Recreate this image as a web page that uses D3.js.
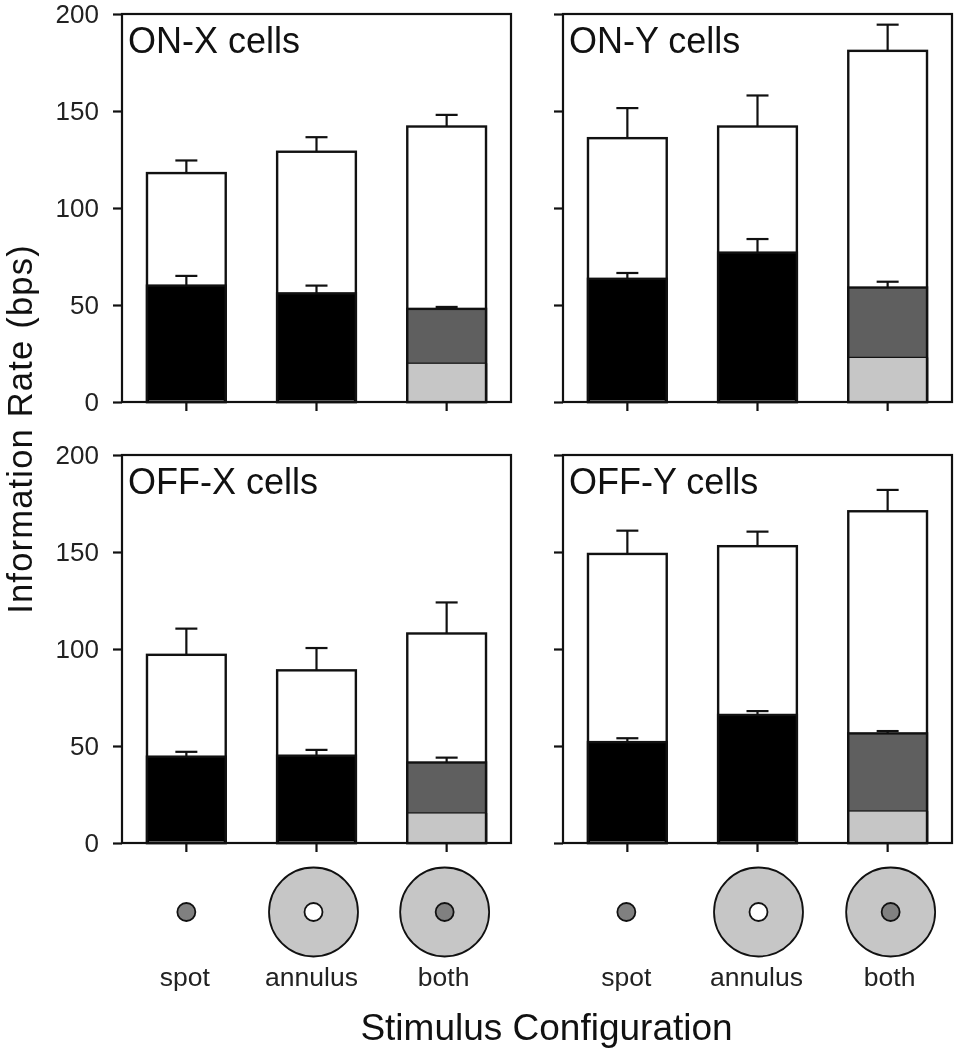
<!DOCTYPE html>
<html>
<head>
<meta charset="utf-8">
<script src="https://cdn.jsdelivr.net/npm/d3@7"></script>
<style>
  html, body { margin: 0; background: #fff; }
  svg { display: block; filter: blur(0.35px); }
  text { font-family: "Liberation Sans", Arial, sans-serif; fill: #111; }
</style>
</head>
<body>
<div id="chart"></div>
<script>
// Information rate by stimulus configuration, four cell classes
const panelNames = ['ON-X cells', 'ON-Y cells', 'OFF-X cells', 'OFF-Y cells'];
const stimuli = ['spot', 'annulus', 'both'];
const yTicks = [0, 50, 100, 150, 200];

// per panel, in order spot / annulus / both
const totals = [[118, 129, 142], [136, 142, 181], [97, 89, 108], [149, 153, 171]];
const totalErrTops = [[124.5, 136.5, 148], [151.5, 158, 194.5], [110.5, 100.5, 124], [161, 160.5, 182]];
const lowers = [[60, 56, 48], [63.5, 77, 59], [44.5, 45, 41.5], [52, 66, 56.5]];
const lowerErrTops = [[65, 60, 49], [66.5, 84, 62], [47, 48, 44], [54, 68, 57.7]];
// light grey part, only the "both" bar has it
const lightParts = [20, 23, 15.5, 16.5];

const width = 958, height = 1050;
const panelW = 389, panelH = 388;
const panelX = [122, 563];
const panelY = [14, 455];
// hand-placed look of the original: icons and names sit a little off the ticks
const iconShift = [[0, -3, -2], [-1, 1, 3]];
const labelShift = [[-1.5, -5, -3], [-1, -1, 2]];

const svg = d3.select('#chart').append('svg').attr('width', width).attr('height', height);

const x = d3.scaleBand().domain(stimuli).range([0, panelW]).paddingInner(0.395).paddingOuter(0.192);
const y = d3.scaleLinear().domain([0, 200]).range([panelH, 0]);
const ink = '#111';

panelNames.forEach((name, p) => {
  const col = p % 2, row = Math.floor(p / 2);
  const g = svg.append('g').attr('transform', `translate(${panelX[col]},${panelY[row]})`);

  const bars = stimuli.map((s, i) => ({
    s, total: totals[p][i], totalTop: totalErrTops[p][i], low: lowers[p][i], lowTop: lowerErrTops[p][i], both: s === 'both',
  }));

  const bar = g.selectAll('g.bar').data(bars).join('g').attr('class', 'bar')
    .attr('transform', (d) => `translate(${x(d.s)},0)`);
  const bw = x.bandwidth();

  bar.append('rect')
    .attr('x', 0).attr('width', bw)
    .attr('y', (d) => y(d.total))
    .attr('height', (d) => y(0) - y(d.total))
    .attr('fill', '#fff').attr('stroke', ink).attr('stroke-width', 2.4);

  bar.append('rect')
    .attr('x', 0).attr('width', bw)
    .attr('y', (d) => y(d.low))
    .attr('height', (d) => y(0) - y(d.low))
    .attr('fill', (d) => (d.both ? '#5f5f5f' : '#000'))
    .attr('stroke', ink).attr('stroke-width', 2.4);

  // the zero-height light segment of the black bars shows as a thin grey line
  bar.filter((d) => !d.both).append('line')
    .attr('x1', 2).attr('x2', bw - 2)
    .attr('y1', y(0) - 1.5).attr('y2', y(0) - 1.5)
    .attr('stroke', '#666').attr('stroke-width', 1);

  bar.filter((d) => d.both).append('rect')
    .attr('x', 0).attr('width', bw)
    .attr('y', y(lightParts[p]))
    .attr('height', y(0) - y(lightParts[p]))
    .attr('fill', '#c6c6c6').attr('stroke', ink).attr('stroke-width', 1.2);
  // side walls of the light segment stay heavy like the rest of the bar
  bar.filter((d) => d.both).append('path')
    .attr('d', `M0,${y(lightParts[p])}V${y(0)}M${bw},${y(lightParts[p])}V${y(0)}`)
    .attr('stroke', ink).attr('stroke-width', 2.4).attr('fill', 'none');

  // upper whiskers
  [['total', 'totalTop'], ['low', 'lowTop']].forEach(([from, to]) => {
    bar.append('line')
      .attr('x1', bw / 2).attr('x2', bw / 2)
      .attr('y1', (d) => y(d[from])).attr('y2', (d) => y(d[to]))
      .attr('stroke', ink).attr('stroke-width', 2.2);
    bar.append('line')
      .attr('x1', bw / 2 - 11).attr('x2', bw / 2 + 11)
      .attr('y1', (d) => y(d[to])).attr('y2', (d) => y(d[to]))
      .attr('stroke', ink).attr('stroke-width', 2.2);
  });

  // frame
  g.append('rect').attr('width', panelW).attr('height', panelH)
    .attr('fill', 'none').attr('stroke', ink).attr('stroke-width', 2.2);

  // axes, labels only on the left column
  const yAxis = d3.axisLeft(y).tickValues(yTicks).tickSize(9).tickPadding(14);
  if (col === 1) yAxis.tickFormat('');
  const ya = g.append('g').call(yAxis);
  ya.select('.domain').remove();
  ya.selectAll('line').attr('stroke', ink).attr('stroke-width', 2.2);
  ya.selectAll('text').attr('font-size', 26).style('fill', '#222');

  const xa = g.append('g').attr('transform', `translate(0,${panelH})`)
    .call(d3.axisBottom(x).tickSize(9).tickFormat(''));
  xa.select('.domain').remove();
  xa.selectAll('line').attr('stroke', ink).attr('stroke-width', 2.2);

  g.append('text').attr('x', 6).attr('y', 39).attr('font-size', 36).text(name);

  // stimulus icons and names under the bottom row
  if (row === 1) {
    const icon = g.selectAll('g.icon').data(stimuli).join('g').attr('class', 'icon')
      .attr('transform', (s, i) => `translate(${x(s) + bw / 2 + iconShift[col][i]},${panelH + 69})`);
    icon.filter((s) => s !== 'spot').append('circle').attr('r', 44.5)
      .attr('fill', '#c6c6c6').attr('stroke', ink).attr('stroke-width', 1.8);
    icon.append('circle').attr('r', 9)
      .attr('fill', (s) => (s === 'annulus' ? '#fff' : '#808080'))
      .attr('stroke', ink).attr('stroke-width', 1.8);
    g.selectAll('text.stim').data(stimuli).join('text').attr('class', 'stim')
      .attr('x', (s, i) => x(s) + bw / 2 + labelShift[col][i])
      .attr('y', panelH + 143)
      .attr('text-anchor', 'middle').attr('font-size', 26.5)
      .style('fill', '#222')
      .text((s) => s);
  }
});

// slightly smaller and spaced out so the glyph box stays inside the page
svg.append('text')
  .attr('transform', 'translate(31.5,429) rotate(-90)')
  .attr('text-anchor', 'middle').attr('font-size', 34.5)
  .attr('letter-spacing', 1.2)
  .text('Information Rate (bps)');

svg.append('text')
  .attr('x', 546.5).attr('y', 1040)
  .attr('text-anchor', 'middle').attr('font-size', 37)
  .text('Stimulus Configuration');
</script>
</body>
</html>
